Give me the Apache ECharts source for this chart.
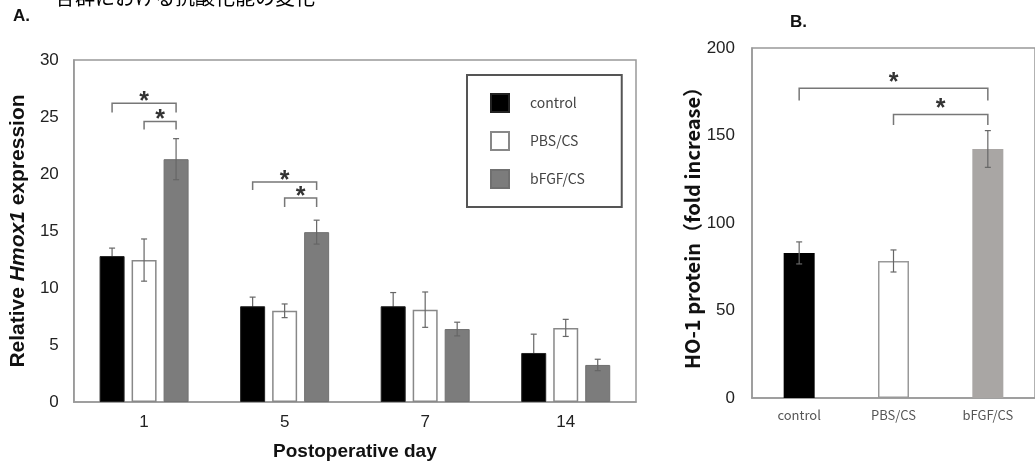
<!DOCTYPE html>
<html><head><meta charset="utf-8">
<script src="https://cdn.jsdelivr.net/npm/echarts@6/dist/echarts.min.js"></script>
<style>html,body{margin:0;padding:0;background:#fff}#c{width:1035px;height:466px}</style>
</head><body><div id="c"></div>
<script>
// ---- Data (panel A: relative Hmox1 expression) ----
const days = ['1', '5', '7', '14'];
const groups = ['control', 'PBS/CS', 'bFGF/CS'];
const controlMean = [12.8, 8.4, 8.4, 4.3];
const controlErr = [0.7, 0.8, 1.2, 1.65];
const pbsMean = [12.45, 8.0, 8.1, 6.5];
const pbsErr = [1.85, 0.6, 1.55, 0.75];
const bfgfMean = [21.3, 14.9, 6.4, 3.25];
const bfgfErr = [1.8, 1.05, 0.6, 0.5];
// significance brackets A: [dayIndex, fromGroup, toGroup, lineValue, tipValue]
const sigA = [[0, 0, 2, 26.2, 25.4], [0, 1, 2, 24.6, 23.9], [1, 0, 2, 19.3, 18.6], [1, 1, 2, 17.9, 17.1]];

// ---- Data (panel B: HO-1 protein) ----
const hoGroups = ['control', 'PBS/CS', 'bFGF/CS'];
const hoMean = [82.9, 78.3, 142.3];
const hoErr = [6.3, 6.3, 10.5];
// significance brackets B: [fromGroup, toGroup, lineValue, tipValue]
const sigB = [[0, 2, 177, 170], [1, 2, 162, 156]];

const title = '各群における抗酸化能の変化';
const yNameA = ['Relative ', 'Hmox1', ' expression'];
const xNameA = 'Postoperative day';
const yNameB = 'HO-1 protein（fold increase）';

// ---- styles ----
const AX = '#999';
const SANS = 'Liberation Sans, Arial, sans-serif';
const JP = 'Noto Sans CJK JP, Noto Sans, sans-serif';
const barStylesA = [
  {color: '#000', borderColor: '#222', borderWidth: 1},
  {color: '#fff', borderColor: '#888', borderWidth: 1.5},
  {color: '#7c7c7c', borderColor: '#707070', borderWidth: 1}
];
const barStylesB = [
  {color: '#000'},
  {color: '#fff', borderColor: '#999', borderWidth: 1.5},
  {color: '#a9a6a4'}
];
const errZ = [1, 3, 3];
const BW_A = 25, GAP_A = '28%', BW_B = 31;

const chart = echarts.init(document.getElementById('c'));

function offsets(api, count, bw, gap) {
  const l = api.barLayout({count: count, barWidth: bw, barGap: gap});
  return l.map(d => d.offsetCenter);
}

function errShape(x, yt, yb) {
  const st = {stroke: '#666', lineWidth: 1.2};
  return {type: 'group', children: [
    {type: 'line', shape: {x1: x, y1: yt, x2: x, y2: yb}, style: st},
    {type: 'line', shape: {x1: x - 3, y1: yt, x2: x + 3, y2: yt}, style: st},
    {type: 'line', shape: {x1: x - 3, y1: yb, x2: x + 3, y2: yb}, style: st}
  ]};
}

function errRenderer(k) {
  return function (params, api) {
    const cat = api.value(0), v = api.value(1), e = api.value(2);
    const off = offsets(api, 3, BW_A, GAP_A)[k];
    const t = api.coord([cat, v + e]);
    const b = api.coord([cat, v - e]);
    return errShape(t[0] + off, t[1], b[1]);
  };
}

function errRendererB(params, api) {
  const cat = api.value(0), v = api.value(1), e = api.value(2);
  const t = api.coord([cat, v + e]);
  const b = api.coord([cat, v - e]);
  return errShape(t[0], t[1], b[1]);
}

function bracket(x1, x2, yl, yt, starDy) {
  const st = {stroke: '#777', lineWidth: 1.5, fill: 'none'};
  return {type: 'group', children: [
    {type: 'polyline', shape: {points: [[x1, yt], [x1, yl], [x2, yl], [x2, yt]]}, style: st},
    {type: 'text', style: {text: '*', x: (x1 + x2) / 2, y: yl - starDy, fontSize: 25, fontWeight: 'bold',
      fontFamily: SANS, fill: '#333', align: 'center', verticalAlign: 'middle'}}
  ]};
}

function sigRenderA(params, api) {
  const cat = api.value(0), f = api.value(1), to = api.value(2), lv = api.value(3), tv = api.value(4);
  const off = offsets(api, 3, BW_A, GAP_A);
  const pl = api.coord([cat, lv]), pt = api.coord([cat, tv]);
  return bracket(pl[0] + off[f], pl[0] + off[to], pl[1], pt[1], 1);
}

function sigRenderB(params, api) {
  const f = api.value(0), to = api.value(1), lv = api.value(2), tv = api.value(3);
  const a = api.coord([f, lv]), b = api.coord([to, tv]);
  return bracket(a[0], b[0], a[1], b[1], 5);
}

const meansA = [controlMean, pbsMean, bfgfMean];
const errsA = [controlErr, pbsErr, bfgfErr];

const series = [];
groups.forEach((g, k) => {
  series.push({
    name: g, type: 'bar', xAxisIndex: 0, yAxisIndex: 0,
    barWidth: BW_A, barGap: GAP_A, data: meansA[k], itemStyle: barStylesA[k], z: 2
  });
});
groups.forEach((g, k) => {
  series.push({
    name: 'err' + k, type: 'custom', xAxisIndex: 0, yAxisIndex: 0, z: errZ[k],
    renderItem: errRenderer(k), encode: {x: 0, y: 1},
    data: days.map((d, i) => [i, meansA[k][i], errsA[k][i]]), clip: false, silent: true
  });
});
series.push({
  name: 'sigA', type: 'custom', xAxisIndex: 0, yAxisIndex: 0, z: 4, renderItem: sigRenderA,
  encode: {x: 0, y: 3}, data: sigA, clip: false, silent: true
});
series.push({
  name: 'HO-1', type: 'bar', xAxisIndex: 1, yAxisIndex: 1, barWidth: BW_B, z: 2,
  data: hoMean.map((v, i) => ({value: v, itemStyle: barStylesB[i]}))
});
series.push({
  name: 'errB', type: 'custom', xAxisIndex: 1, yAxisIndex: 1, z: 3, renderItem: errRendererB,
  encode: {x: 0, y: 1}, data: hoGroups.map((g, i) => [i, hoMean[i], hoErr[i]]), clip: false, silent: true
});
series.push({
  name: 'sigB', type: 'custom', xAxisIndex: 1, yAxisIndex: 1, z: 4, renderItem: sigRenderB,
  encode: {x: 0, y: 2}, data: sigB, clip: false, silent: true
});

const option = {
  animation: false,
  backgroundColor: '#fff',
  graphic: [
    {type: 'text', left: 55, top: -13, style: {text: title, fontSize: 20, fontFamily: JP, fill: '#000'}},
    {type: 'text', left: 13, top: 8, style: {text: 'A.', fontSize: 17, fontWeight: 'bold', fontFamily: SANS, fill: '#111'}},
    {type: 'text', left: 790, top: 14, style: {text: 'B.', fontSize: 17, fontWeight: 'bold', fontFamily: SANS, fill: '#111'}}
  ],
  legend: {
    data: groups, orient: 'vertical', left: 467, top: 75, icon: 'rect',
    itemWidth: 18, itemHeight: 18, itemGap: 18,
    padding: [18, 37, 18, 23], borderColor: '#555', borderWidth: 2,
    textStyle: {fontSize: 14, color: '#444', fontFamily: JP, padding: [0, 0, 0, 16]},
    selectedMode: false
  },
  grid: [
    {left: 70, top: 60, width: 566, height: 342, show: true, borderColor: AX, borderWidth: 1.5, containLabel: false},
    {left: 752, top: 48, width: 288, height: 350, show: true, borderColor: AX, borderWidth: 1.5, containLabel: false}
  ],
  xAxis: [
    {type: 'category', gridIndex: 0, data: days,
      axisLine: {lineStyle: {color: AX, width: 1.5}}, axisTick: {show: false},
      axisLabel: {fontSize: 17, color: '#222', fontFamily: SANS, margin: 12},
      name: xNameA, nameLocation: 'middle', nameGap: 40,
      nameTextStyle: {fontSize: 19, fontWeight: 'bold', color: '#111', fontFamily: SANS}},
    {type: 'category', gridIndex: 1, data: hoGroups,
      axisLine: {lineStyle: {color: AX, width: 1.5}}, axisTick: {show: false},
      axisLabel: {fontSize: 13, color: '#555', fontFamily: JP, margin: 11}}
  ],
  yAxis: [
    {type: 'value', gridIndex: 0, min: 0, max: 30, interval: 5,
      axisLine: {show: true, lineStyle: {color: AX, width: 1.5}}, axisTick: {show: false},
      splitLine: {show: false},
      axisLabel: {fontSize: 17, color: '#222', fontFamily: SANS, margin: 15},
      name: '{a|' + yNameA[0] + '}{b|' + yNameA[1] + '}{a|' + yNameA[2] + '}',
      nameLocation: 'middle', nameRotate: 90, nameGap: 35,
      nameTextStyle: {rich: {
        a: {fontSize: 21, fontWeight: 'bold', color: '#111', fontFamily: SANS},
        b: {fontSize: 21, fontWeight: 'bold', fontStyle: 'italic', color: '#111', fontFamily: SANS}
      }}},
    {type: 'value', gridIndex: 1, min: 0, max: 200, interval: 50,
      axisLine: {show: true, lineStyle: {color: AX, width: 1.5}}, axisTick: {show: false},
      splitLine: {show: false},
      axisLabel: {fontSize: 17, color: '#222', fontFamily: SANS, margin: 17},
      name: yNameB, nameLocation: 'middle', nameRotate: 90, nameGap: 48,
      nameTextStyle: {fontSize: 20, fontWeight: 'bold', color: '#111', fontFamily: JP}}
  ],
  series: series
};
chart.setOption(option);
</script>
</body></html>
